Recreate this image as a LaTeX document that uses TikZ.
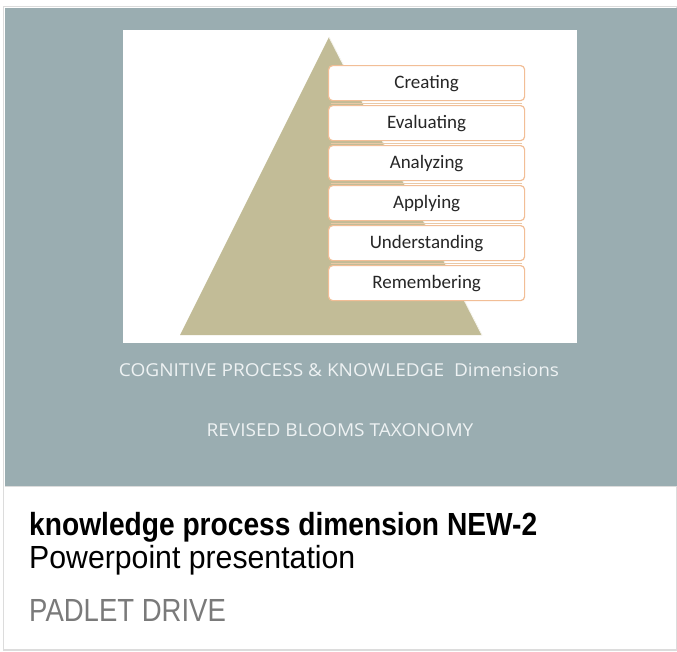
\documentclass[tikz,border=0pt]{standalone}
\usepackage{fontspec}
\usetikzlibrary{calc}
\setmainfont{Liberation Sans}
\newfontfamily\boxfont{Carlito}
\newfontfamily\capfont[FakeStretch=1.07]{Open Sans}
\newfontfamily\titlefont[FakeStretch=0.88]{Liberation Sans}
\newfontfamily\subfont[FakeStretch=0.945]{Liberation Sans}
\newfontfamily\drivefont[FakeStretch=0.86]{Liberation Sans}
\definecolor{cardgray}{HTML}{9AADB1}
\definecolor{cardborder}{HTML}{DCDCDC}
\definecolor{pyr}{HTML}{C2BC97}
\definecolor{boxedge}{HTML}{F2BE96}
\definecolor{gapline}{HTML}{E9C8A6}
\definecolor{captext}{HTML}{EEF2F3}
\definecolor{drive}{HTML}{7A7A7A}
\begin{document}
\begin{tikzpicture}[x=1pt,y=-1pt,
  level/.style={draw=boxedge,line width=1.2pt,rounded corners=4pt,fill=white,
    minimum width=196pt,minimum height=35pt,inner sep=0pt,anchor=north west,
    font=\boxfont\fontsize{19}{21}\selectfont,text=black!85},
  caption/.style={font=\capfont\fontsize{17.8}{20}\selectfont,text=captext,inner sep=0pt,anchor=base},
  cardtext/.style={anchor=base west,inner sep=0pt},
  gap/.style={gapline,line width=1pt}]
\useasboundingbox (0,0) rectangle (677,651);
\fill[white] (0,0) rectangle (677,651);
% card
\draw[cardborder,line width=1.5pt,fill=white] (3.5,6.5) rectangle (677,650);
\fill[cardgray] (4.5,7.5) rectangle (677,486);
\draw[cardborder,line width=1pt] (4.5,486.5) -- (677,486.5);
% slide
\fill[white] (123,30) rectangle (577,343);
\fill[pyr] (329,37) -- (482,335) -- (180,335) -- cycle;
\draw[white!85!pyr,line width=0.8pt] (329,37) -- (482,335);
% levels
\node[level] (cre) at (328,65) {Creating};
\node[level] (eva) at (328,105) {Evaluating};
\node[level] (ana) at (328,145) {Analyzing};
\node[level] (app) at (328,185) {Applying};
\node[level] (und) at (328,225) {Understanding};
\node[level] (rem) at (328,265) {Remembering};
% gap lines
\foreach \a/\b in {cre/eva,eva/ana,ana/app,app/und,und/rem}
  \draw[gap] ($(\a.south west)!0.5!(\b.north west)+(3,0)$) -- ($(\a.south east)!0.5!(\b.north east)+(-3,0)$);
% captions
\node[caption] (c1) at (339,376) {COGNITIVE PROCESS \& KNOWLEDGE\ \ Dimensions};
\node[caption] (c2) at (340,436.5) {REVISED BLOOMS TAXONOMY};
% card texts
\node[cardtext,font=\titlefont\bfseries\fontsize{32}{36}\selectfont] (t1) at (29,535.5) {knowledge process dimension NEW-2};
\node[cardtext,font=\subfont\fontsize{32}{36}\selectfont] (t2) at (29,568) {Powerpoint presentation};
\node[cardtext,font=\drivefont\fontsize{32}{36}\selectfont,text=drive] (t3) at (29,621) {PADLET DRIVE};
\end{tikzpicture}
\end{document}
